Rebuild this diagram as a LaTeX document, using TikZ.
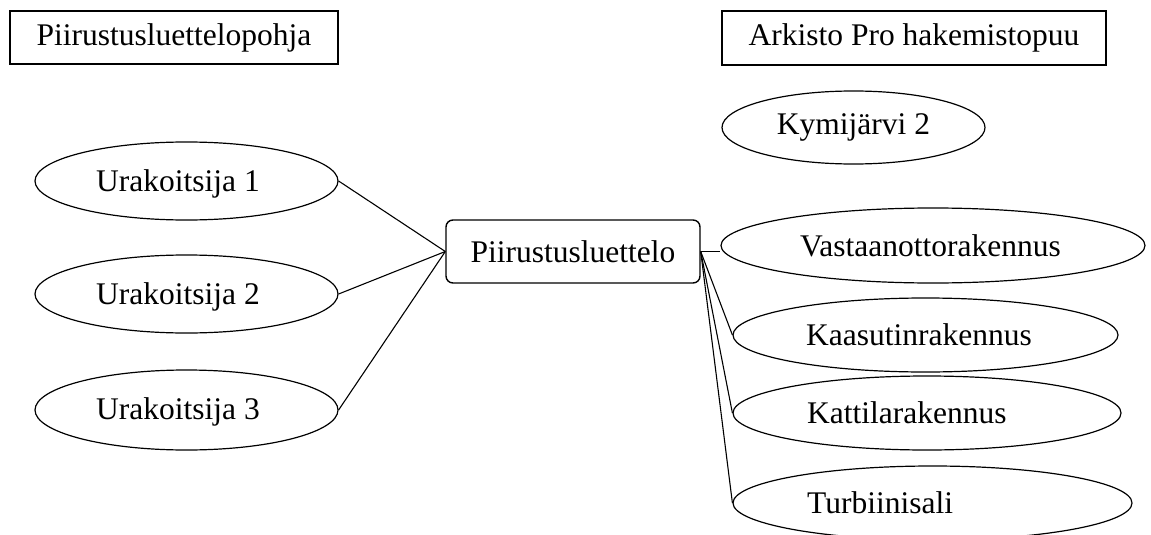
\documentclass[tikz,border=0pt]{standalone}
\usepackage{fontspec}
\setmainfont{Liberation Serif}
\usetikzlibrary{shapes.geometric}
\begin{document}
\begin{tikzpicture}[x=1pt,y=-1pt,
  every node/.style={font=\fontsize{31.5}{38}\selectfont},
  hdr/.style={draw, line width=1.6pt, inner sep=0pt},
  oval/.style={draw, ellipse, line width=1.2pt, inner sep=0pt},
  hub/.style={draw, rounded corners=7pt, line width=1.4pt, inner sep=0pt},
  txt/.style={anchor=base west, inner sep=0pt},
  conn/.style={line width=1.1pt}]
\useasboundingbox (0,0) rectangle (1151,535);

\node[hdr, minimum width=328pt, minimum height=53pt] (hdrL) at (174,37.5) {Piirustusluettelopohja};
\node[hdr, minimum width=384pt, minimum height=54pt] (hdrR) at (914,38) {Arkisto Pro hakemistopuu};

\node[oval, minimum width=263pt, minimum height=73pt] (kym) at (853.5,127.5) {Kymijärvi 2};

\node[oval, minimum width=303pt, minimum height=78pt] (u1) at (186.5,181) {};
\node[oval, minimum width=303pt, minimum height=78pt] (u2) at (186.5,294) {};
\node[oval, minimum width=303pt, minimum height=80pt] (u3) at (186.5,410) {};
\node[txt] (u1t) at (96,191) {Urakoitsija 1};
\node[txt] (u2t) at (96,304) {Urakoitsija 2};
\node[txt] (u3t) at (96,419) {Urakoitsija 3};

\node[hub, minimum width=254pt, minimum height=63pt] (pl) at (573,251.5) {Piirustusluettelo};

\node[oval, minimum width=424pt, minimum height=75pt] (va) at (933,245.5) {};
\node[oval, minimum width=385pt, minimum height=74pt] (ka) at (925.5,335) {};
\node[oval, minimum width=388pt, minimum height=74pt] (kt) at (927,413) {};
\node[oval, minimum width=399pt, minimum height=74pt] (tu) at (932.5,503) {};
\node[txt] (vat) at (800,256) {Vastaanottorakennus};
\node[txt] (kat) at (806,345) {Kaasutinrakennus};
\node[txt] (ktt) at (807,423) {Kattilarakennus};
\node[txt] (tut) at (807,513) {Turbiinisali};

\draw[conn] (u1.east) -- (pl.west);
\draw[conn] (u2.east) -- (pl.west);
\draw[conn] (u3.east) -- (pl.west);
\draw[conn] (pl.east) -- (pl.east -| va.west);
\draw[conn] (pl.east) -- (ka.west);
\draw[conn] (pl.east) -- (kt.west);
\draw[conn] (pl.east) -- (tu.west);
\end{tikzpicture}
\end{document}
